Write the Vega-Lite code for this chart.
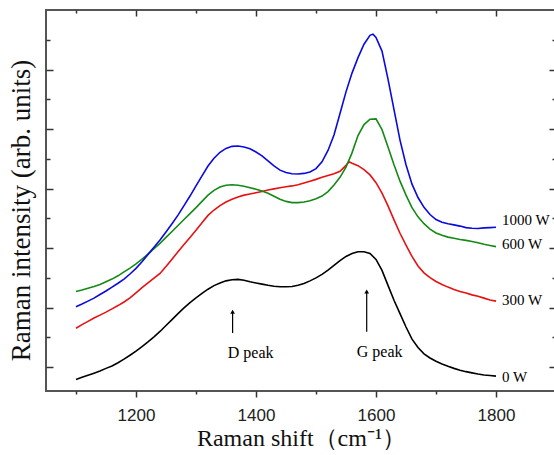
{
  "$schema": "https://vega.github.io/schema/vega-lite/v6.json",
  "width": 510,
  "height": 381,
  "autosize": "none",
  "padding": {"left": 46, "top": 10, "right": 0, "bottom": 64},
  "background": "white",
  "config": {
    "view": {"stroke": "#555555", "strokeWidth": 2},
    "axis": {"domain": false, "grid": false, "tickColor": "#333333", "tickWidth": 1.5}
  },
  "datasets": {
    "spectra": [
      {"s": "0 W", "x": 1100, "y": 0.59}, {"s": "0 W", "x": 1110, "y": 0.66}, {"s": "0 W", "x": 1120, "y": 0.73}, {"s": "0 W", "x": 1130, "y": 0.80}, {"s": "0 W", "x": 1140, "y": 0.87}, {"s": "0 W", "x": 1150, "y": 0.96}, {"s": "0 W", "x": 1160, "y": 1.04}, {"s": "0 W", "x": 1170, "y": 1.15}, {"s": "0 W", "x": 1180, "y": 1.27}, {"s": "0 W", "x": 1190, "y": 1.40},
      {"s": "0 W", "x": 1200, "y": 1.54}, {"s": "0 W", "x": 1210, "y": 1.69}, {"s": "0 W", "x": 1220, "y": 1.85}, {"s": "0 W", "x": 1230, "y": 2.02}, {"s": "0 W", "x": 1240, "y": 2.20}, {"s": "0 W", "x": 1250, "y": 2.40}, {"s": "0 W", "x": 1260, "y": 2.60}, {"s": "0 W", "x": 1270, "y": 2.80}, {"s": "0 W", "x": 1280, "y": 2.99}, {"s": "0 W", "x": 1290, "y": 3.17},
      {"s": "0 W", "x": 1300, "y": 3.33}, {"s": "0 W", "x": 1310, "y": 3.48}, {"s": "0 W", "x": 1320, "y": 3.62}, {"s": "0 W", "x": 1330, "y": 3.74}, {"s": "0 W", "x": 1340, "y": 3.83}, {"s": "0 W", "x": 1350, "y": 3.90}, {"s": "0 W", "x": 1360, "y": 3.94}, {"s": "0 W", "x": 1370, "y": 3.95}, {"s": "0 W", "x": 1380, "y": 3.92}, {"s": "0 W", "x": 1390, "y": 3.87},
      {"s": "0 W", "x": 1400, "y": 3.83}, {"s": "0 W", "x": 1410, "y": 3.79}, {"s": "0 W", "x": 1420, "y": 3.75}, {"s": "0 W", "x": 1430, "y": 3.72}, {"s": "0 W", "x": 1440, "y": 3.70}, {"s": "0 W", "x": 1450, "y": 3.70}, {"s": "0 W", "x": 1460, "y": 3.71}, {"s": "0 W", "x": 1470, "y": 3.75}, {"s": "0 W", "x": 1480, "y": 3.81}, {"s": "0 W", "x": 1490, "y": 3.90},
      {"s": "0 W", "x": 1500, "y": 4.00}, {"s": "0 W", "x": 1510, "y": 4.12}, {"s": "0 W", "x": 1520, "y": 4.26}, {"s": "0 W", "x": 1530, "y": 4.42}, {"s": "0 W", "x": 1540, "y": 4.58}, {"s": "0 W", "x": 1550, "y": 4.72}, {"s": "0 W", "x": 1560, "y": 4.82}, {"s": "0 W", "x": 1570, "y": 4.88}, {"s": "0 W", "x": 1580, "y": 4.88}, {"s": "0 W", "x": 1590, "y": 4.82},
      {"s": "0 W", "x": 1600, "y": 4.62}, {"s": "0 W", "x": 1610, "y": 4.25}, {"s": "0 W", "x": 1620, "y": 3.75}, {"s": "0 W", "x": 1630, "y": 3.25}, {"s": "0 W", "x": 1640, "y": 2.80}, {"s": "0 W", "x": 1650, "y": 2.35}, {"s": "0 W", "x": 1660, "y": 1.94}, {"s": "0 W", "x": 1670, "y": 1.66}, {"s": "0 W", "x": 1680, "y": 1.45}, {"s": "0 W", "x": 1690, "y": 1.31},
      {"s": "0 W", "x": 1700, "y": 1.20}, {"s": "0 W", "x": 1710, "y": 1.11}, {"s": "0 W", "x": 1720, "y": 1.03}, {"s": "0 W", "x": 1730, "y": 0.96}, {"s": "0 W", "x": 1740, "y": 0.90}, {"s": "0 W", "x": 1750, "y": 0.85}, {"s": "0 W", "x": 1760, "y": 0.81}, {"s": "0 W", "x": 1770, "y": 0.77}, {"s": "0 W", "x": 1780, "y": 0.74}, {"s": "0 W", "x": 1790, "y": 0.72}, {"s": "0 W", "x": 1800, "y": 0.70},

      {"s": "300 W", "x": 1100, "y": 2.31}, {"s": "300 W", "x": 1110, "y": 2.43}, {"s": "300 W", "x": 1120, "y": 2.54}, {"s": "300 W", "x": 1130, "y": 2.65}, {"s": "300 W", "x": 1140, "y": 2.75}, {"s": "300 W", "x": 1150, "y": 2.85}, {"s": "300 W", "x": 1160, "y": 2.96}, {"s": "300 W", "x": 1170, "y": 3.07}, {"s": "300 W", "x": 1180, "y": 3.19}, {"s": "300 W", "x": 1190, "y": 3.33},
      {"s": "300 W", "x": 1200, "y": 3.50}, {"s": "300 W", "x": 1210, "y": 3.67}, {"s": "300 W", "x": 1220, "y": 3.83}, {"s": "300 W", "x": 1230, "y": 3.99}, {"s": "300 W", "x": 1240, "y": 4.15}, {"s": "300 W", "x": 1250, "y": 4.38}, {"s": "300 W", "x": 1260, "y": 4.63}, {"s": "300 W", "x": 1270, "y": 4.88}, {"s": "300 W", "x": 1280, "y": 5.12}, {"s": "300 W", "x": 1290, "y": 5.36},
      {"s": "300 W", "x": 1300, "y": 5.60}, {"s": "300 W", "x": 1310, "y": 5.85}, {"s": "300 W", "x": 1320, "y": 6.10}, {"s": "300 W", "x": 1330, "y": 6.28}, {"s": "300 W", "x": 1340, "y": 6.43}, {"s": "300 W", "x": 1350, "y": 6.55}, {"s": "300 W", "x": 1360, "y": 6.64}, {"s": "300 W", "x": 1370, "y": 6.72}, {"s": "300 W", "x": 1380, "y": 6.78}, {"s": "300 W", "x": 1390, "y": 6.82},
      {"s": "300 W", "x": 1400, "y": 6.86}, {"s": "300 W", "x": 1410, "y": 6.90}, {"s": "300 W", "x": 1420, "y": 6.95}, {"s": "300 W", "x": 1430, "y": 6.99}, {"s": "300 W", "x": 1440, "y": 7.03}, {"s": "300 W", "x": 1450, "y": 7.06}, {"s": "300 W", "x": 1460, "y": 7.09}, {"s": "300 W", "x": 1470, "y": 7.13}, {"s": "300 W", "x": 1480, "y": 7.19}, {"s": "300 W", "x": 1490, "y": 7.25},
      {"s": "300 W", "x": 1500, "y": 7.31}, {"s": "300 W", "x": 1510, "y": 7.38}, {"s": "300 W", "x": 1520, "y": 7.44}, {"s": "300 W", "x": 1530, "y": 7.50}, {"s": "300 W", "x": 1540, "y": 7.58}, {"s": "300 W", "x": 1550, "y": 7.78}, {"s": "300 W", "x": 1555, "y": 7.90}, {"s": "300 W", "x": 1560, "y": 7.85}, {"s": "300 W", "x": 1570, "y": 7.77}, {"s": "300 W", "x": 1580, "y": 7.64}, {"s": "300 W", "x": 1590, "y": 7.46},
      {"s": "300 W", "x": 1600, "y": 7.20}, {"s": "300 W", "x": 1610, "y": 6.85}, {"s": "300 W", "x": 1620, "y": 6.42}, {"s": "300 W", "x": 1630, "y": 5.95}, {"s": "300 W", "x": 1640, "y": 5.50}, {"s": "300 W", "x": 1650, "y": 5.10}, {"s": "300 W", "x": 1660, "y": 4.72}, {"s": "300 W", "x": 1670, "y": 4.40}, {"s": "300 W", "x": 1680, "y": 4.17}, {"s": "300 W", "x": 1690, "y": 4.01},
      {"s": "300 W", "x": 1700, "y": 3.88}, {"s": "300 W", "x": 1710, "y": 3.78}, {"s": "300 W", "x": 1720, "y": 3.69}, {"s": "300 W", "x": 1730, "y": 3.61}, {"s": "300 W", "x": 1740, "y": 3.54}, {"s": "300 W", "x": 1750, "y": 3.49}, {"s": "300 W", "x": 1760, "y": 3.43}, {"s": "300 W", "x": 1770, "y": 3.38}, {"s": "300 W", "x": 1780, "y": 3.32}, {"s": "300 W", "x": 1790, "y": 3.26}, {"s": "300 W", "x": 1800, "y": 3.22},

      {"s": "600 W", "x": 1100, "y": 3.54}, {"s": "600 W", "x": 1110, "y": 3.59}, {"s": "600 W", "x": 1120, "y": 3.65}, {"s": "600 W", "x": 1130, "y": 3.71}, {"s": "600 W", "x": 1140, "y": 3.78}, {"s": "600 W", "x": 1150, "y": 3.87}, {"s": "600 W", "x": 1160, "y": 3.96}, {"s": "600 W", "x": 1170, "y": 4.07}, {"s": "600 W", "x": 1180, "y": 4.20}, {"s": "600 W", "x": 1190, "y": 4.33},
      {"s": "600 W", "x": 1200, "y": 4.47}, {"s": "600 W", "x": 1210, "y": 4.63}, {"s": "600 W", "x": 1220, "y": 4.80}, {"s": "600 W", "x": 1230, "y": 4.98}, {"s": "600 W", "x": 1240, "y": 5.16}, {"s": "600 W", "x": 1250, "y": 5.36}, {"s": "600 W", "x": 1260, "y": 5.56}, {"s": "600 W", "x": 1270, "y": 5.76}, {"s": "600 W", "x": 1280, "y": 5.96}, {"s": "600 W", "x": 1290, "y": 6.16},
      {"s": "600 W", "x": 1300, "y": 6.36}, {"s": "600 W", "x": 1310, "y": 6.57}, {"s": "600 W", "x": 1320, "y": 6.78}, {"s": "600 W", "x": 1330, "y": 6.94}, {"s": "600 W", "x": 1340, "y": 7.05}, {"s": "600 W", "x": 1350, "y": 7.11}, {"s": "600 W", "x": 1360, "y": 7.13}, {"s": "600 W", "x": 1370, "y": 7.11}, {"s": "600 W", "x": 1380, "y": 7.08}, {"s": "600 W", "x": 1390, "y": 7.03},
      {"s": "600 W", "x": 1400, "y": 6.98}, {"s": "600 W", "x": 1410, "y": 6.92}, {"s": "600 W", "x": 1420, "y": 6.84}, {"s": "600 W", "x": 1430, "y": 6.74}, {"s": "600 W", "x": 1440, "y": 6.64}, {"s": "600 W", "x": 1450, "y": 6.57}, {"s": "600 W", "x": 1460, "y": 6.53}, {"s": "600 W", "x": 1470, "y": 6.53}, {"s": "600 W", "x": 1480, "y": 6.55}, {"s": "600 W", "x": 1490, "y": 6.59},
      {"s": "600 W", "x": 1500, "y": 6.66}, {"s": "600 W", "x": 1510, "y": 6.75}, {"s": "600 W", "x": 1520, "y": 6.90}, {"s": "600 W", "x": 1530, "y": 7.12}, {"s": "600 W", "x": 1540, "y": 7.38}, {"s": "600 W", "x": 1550, "y": 7.72}, {"s": "600 W", "x": 1560, "y": 8.20}, {"s": "600 W", "x": 1570, "y": 8.78}, {"s": "600 W", "x": 1580, "y": 9.15}, {"s": "600 W", "x": 1590, "y": 9.33},
      {"s": "600 W", "x": 1600, "y": 9.34}, {"s": "600 W", "x": 1610, "y": 8.98}, {"s": "600 W", "x": 1620, "y": 8.40}, {"s": "600 W", "x": 1630, "y": 7.80}, {"s": "600 W", "x": 1640, "y": 7.25}, {"s": "600 W", "x": 1650, "y": 6.78}, {"s": "600 W", "x": 1660, "y": 6.36}, {"s": "600 W", "x": 1670, "y": 6.05}, {"s": "600 W", "x": 1680, "y": 5.82}, {"s": "600 W", "x": 1690, "y": 5.64},
      {"s": "600 W", "x": 1700, "y": 5.51}, {"s": "600 W", "x": 1710, "y": 5.43}, {"s": "600 W", "x": 1720, "y": 5.37}, {"s": "600 W", "x": 1730, "y": 5.33}, {"s": "600 W", "x": 1740, "y": 5.29}, {"s": "600 W", "x": 1750, "y": 5.26}, {"s": "600 W", "x": 1760, "y": 5.22}, {"s": "600 W", "x": 1770, "y": 5.18}, {"s": "600 W", "x": 1780, "y": 5.13}, {"s": "600 W", "x": 1790, "y": 5.09}, {"s": "600 W", "x": 1800, "y": 5.05},

      {"s": "1000 W", "x": 1100, "y": 3.03}, {"s": "1000 W", "x": 1110, "y": 3.12}, {"s": "1000 W", "x": 1120, "y": 3.22}, {"s": "1000 W", "x": 1130, "y": 3.32}, {"s": "1000 W", "x": 1140, "y": 3.44}, {"s": "1000 W", "x": 1150, "y": 3.56}, {"s": "1000 W", "x": 1160, "y": 3.69}, {"s": "1000 W", "x": 1170, "y": 3.82}, {"s": "1000 W", "x": 1180, "y": 3.96}, {"s": "1000 W", "x": 1190, "y": 4.13},
      {"s": "1000 W", "x": 1200, "y": 4.32}, {"s": "1000 W", "x": 1210, "y": 4.54}, {"s": "1000 W", "x": 1220, "y": 4.79}, {"s": "1000 W", "x": 1230, "y": 5.03}, {"s": "1000 W", "x": 1240, "y": 5.27}, {"s": "1000 W", "x": 1250, "y": 5.54}, {"s": "1000 W", "x": 1260, "y": 5.82}, {"s": "1000 W", "x": 1270, "y": 6.11}, {"s": "1000 W", "x": 1280, "y": 6.43}, {"s": "1000 W", "x": 1290, "y": 6.75},
      {"s": "1000 W", "x": 1300, "y": 7.09}, {"s": "1000 W", "x": 1310, "y": 7.43}, {"s": "1000 W", "x": 1320, "y": 7.76}, {"s": "1000 W", "x": 1330, "y": 8.02}, {"s": "1000 W", "x": 1340, "y": 8.22}, {"s": "1000 W", "x": 1350, "y": 8.35}, {"s": "1000 W", "x": 1360, "y": 8.42}, {"s": "1000 W", "x": 1370, "y": 8.43}, {"s": "1000 W", "x": 1380, "y": 8.40}, {"s": "1000 W", "x": 1390, "y": 8.34},
      {"s": "1000 W", "x": 1400, "y": 8.23}, {"s": "1000 W", "x": 1410, "y": 8.10}, {"s": "1000 W", "x": 1420, "y": 7.93}, {"s": "1000 W", "x": 1430, "y": 7.76}, {"s": "1000 W", "x": 1440, "y": 7.62}, {"s": "1000 W", "x": 1450, "y": 7.54}, {"s": "1000 W", "x": 1460, "y": 7.50}, {"s": "1000 W", "x": 1470, "y": 7.49}, {"s": "1000 W", "x": 1480, "y": 7.51}, {"s": "1000 W", "x": 1490, "y": 7.56},
      {"s": "1000 W", "x": 1500, "y": 7.67}, {"s": "1000 W", "x": 1510, "y": 7.90}, {"s": "1000 W", "x": 1520, "y": 8.28}, {"s": "1000 W", "x": 1530, "y": 8.80}, {"s": "1000 W", "x": 1540, "y": 9.52}, {"s": "1000 W", "x": 1550, "y": 10.25}, {"s": "1000 W", "x": 1560, "y": 10.88}, {"s": "1000 W", "x": 1570, "y": 11.40}, {"s": "1000 W", "x": 1580, "y": 11.85}, {"s": "1000 W", "x": 1590, "y": 12.15}, {"s": "1000 W", "x": 1595, "y": 12.19},
      {"s": "1000 W", "x": 1600, "y": 12.08}, {"s": "1000 W", "x": 1610, "y": 11.62}, {"s": "1000 W", "x": 1620, "y": 10.68}, {"s": "1000 W", "x": 1630, "y": 9.65}, {"s": "1000 W", "x": 1640, "y": 8.63}, {"s": "1000 W", "x": 1650, "y": 7.80}, {"s": "1000 W", "x": 1660, "y": 7.15}, {"s": "1000 W", "x": 1670, "y": 6.70}, {"s": "1000 W", "x": 1680, "y": 6.37}, {"s": "1000 W", "x": 1690, "y": 6.13},
      {"s": "1000 W", "x": 1700, "y": 5.96}, {"s": "1000 W", "x": 1710, "y": 5.87}, {"s": "1000 W", "x": 1720, "y": 5.82}, {"s": "1000 W", "x": 1730, "y": 5.78}, {"s": "1000 W", "x": 1740, "y": 5.74}, {"s": "1000 W", "x": 1750, "y": 5.69}, {"s": "1000 W", "x": 1760, "y": 5.67}, {"s": "1000 W", "x": 1770, "y": 5.66}, {"s": "1000 W", "x": 1780, "y": 5.68}, {"s": "1000 W", "x": 1790, "y": 5.69}, {"s": "1000 W", "x": 1800, "y": 5.70}
    ],
    "arrows": [
      {"label": "D peak", "x": 1361, "y0": 2.15, "y1": 2.86, "tx": 1391, "ty": 1.47},
      {"label": "G peak", "x": 1584.5, "y0": 2.19, "y1": 3.54, "tx": 1606, "ty": 1.52}
    ],
    "labels": [
      {"label": "1000 W", "x": 1810, "y": 5.94},
      {"label": "600 W", "x": 1810, "y": 5.14},
      {"label": "300 W", "x": 1810, "y": 3.26},
      {"label": "0 W", "x": 1810, "y": 0.67}
    ]
  },
  "layer": [
    {
      "data": {"name": "spectra"},
      "mark": {"type": "line", "strokeWidth": 1.6},
      "encoding": {
        "x": {
          "field": "x", "type": "quantitative",
          "scale": {"domain": [1050, 1900], "nice": false, "zero": false},
          "axis": {
            "orient": "bottom",
            "values": [1100, 1200, 1300, 1400, 1500, 1600, 1700, 1800, 1900],
            "format": "d",
            "labelExpr": "datum.value % 200 === 0 && datum.value < 1900 ? datum.label : ''",
            "tickSize": {"condition": {"test": "datum.value % 200 === 0", "value": 6}, "value": 3},
            "labelFont": "Liberation Sans", "labelFontSize": 17, "labelColor": "#222222", "labelPadding": 10,
            "labelFlush": false, "labelOverlap": false,
            "title": "Raman shift（cm⁻¹）",
            "titleFont": "Liberation Serif", "titleFontSize": 24, "titleFontWeight": "normal", "titleColor": "#111111",
            "titlePadding": 3
          }
        },
        "y": {
          "field": "y", "type": "quantitative",
          "scale": {"domain": [0.2, 13], "nice": false, "zero": false},
          "axis": {
            "orient": "left",
            "values": [1, 2, 3, 4, 5, 6, 7, 8, 9, 10, 11, 12],
            "labels": false,
            "tickSize": {"condition": {"test": "datum.value % 2 === 1", "value": -7}, "value": -4},
            "title": "Raman intensity (arb. units)",
            "titleFont": "Liberation Serif", "titleFontSize": 27, "titleFontWeight": "normal", "titleColor": "#111111",
            "titleX": -25, "titleY": 200, "titleAlign": "center", "titleBaseline": "middle", "titleAngle": -90
          }
        },
        "color": {
          "field": "s", "type": "nominal",
          "scale": {"domain": ["0 W", "300 W", "600 W", "1000 W"], "range": ["#000000", "#e81010", "#138a13", "#0a0ae0"]},
          "legend": null
        }
      }
    },
    {
      "data": {"name": "arrows"},
      "mark": {"type": "rule", "color": "#000000", "strokeWidth": 1.2},
      "encoding": {
        "x": {
          "field": "x", "type": "quantitative",
          "scale": {"domain": [1050, 1900], "nice": false, "zero": false},
          "axis": {
            "orient": "top",
            "values": [1100, 1200, 1300, 1400, 1500, 1600, 1700, 1800, 1900],
            "labels": false, "title": null,
            "tickSize": {"condition": {"test": "datum.value % 200 === 0", "value": -6}, "value": -3}
          }
        },
        "y": {
          "field": "y0", "type": "quantitative",
          "scale": {"domain": [0.2, 13], "nice": false, "zero": false},
          "axis": {
            "orient": "right",
            "values": [1, 2, 3, 4, 5, 6, 7, 8, 9, 10, 11, 12],
            "labels": false, "title": null,
            "tickSize": {"condition": {"test": "datum.value % 2 === 1", "value": -7}, "value": -4}
          }
        },
        "y2": {"field": "y1"}
      }
    },
    {
      "data": {"name": "arrows"},
      "mark": {"type": "point", "shape": "triangle-up", "filled": true, "color": "#000000", "size": 22, "opacity": 1},
      "encoding": {
        "x": {"field": "x", "type": "quantitative", "axis": null},
        "y": {"field": "y1", "type": "quantitative", "axis": null}
      }
    },
    {
      "data": {"name": "arrows"},
      "mark": {"type": "text", "font": "Liberation Serif", "fontSize": 16, "color": "#000000", "align": "center", "baseline": "middle"},
      "encoding": {
        "x": {"field": "tx", "type": "quantitative", "axis": null},
        "y": {"field": "ty", "type": "quantitative", "axis": null},
        "text": {"field": "label"}
      }
    },
    {
      "data": {"name": "labels"},
      "mark": {"type": "text", "font": "Liberation Serif", "fontSize": 15, "color": "#000000", "align": "left", "baseline": "middle"},
      "encoding": {
        "x": {"field": "x", "type": "quantitative", "axis": null},
        "y": {"field": "y", "type": "quantitative", "axis": null},
        "text": {"field": "label"}
      }
    }
  ],
  "resolve": {"axis": {"x": "independent", "y": "independent"}}
}
